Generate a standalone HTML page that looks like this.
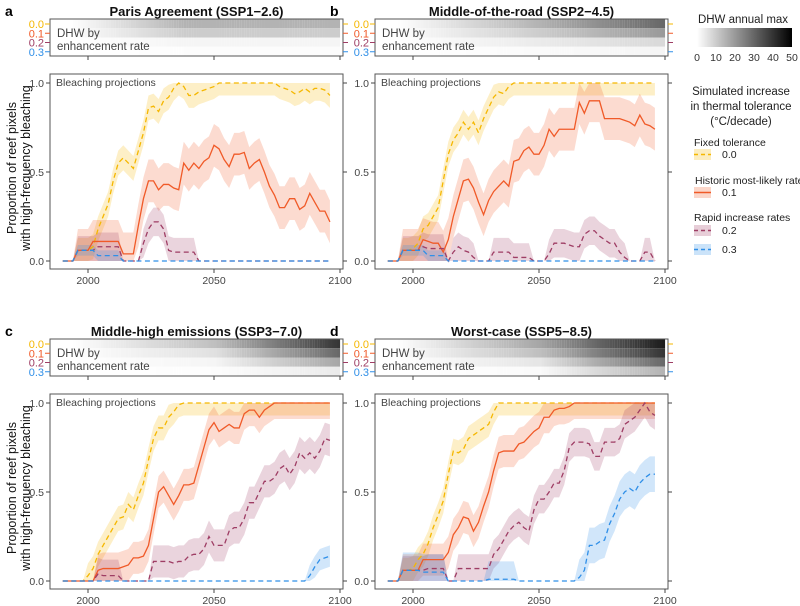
<!DOCTYPE html>
<html><head><meta charset="utf-8">
<style>
body{margin:0;background:#fff;}
svg{display:block;font-family:"Liberation Sans",sans-serif;}
</style></head>
<body>
<svg id="chart" width="800" height="606" viewBox="0 0 800 606" xmlns="http://www.w3.org/2000/svg">
<defs>
<linearGradient id="cbar" x1="0" x2="1" y1="0" y2="0"><stop offset="0" stop-color="#fff"/><stop offset="1" stop-color="#000"/></linearGradient>
</defs>
<g id="legend">
<text x="743" y="23" font-size="11.5" text-anchor="middle" fill="#222">DHW annual max</text>
<rect x="697" y="28" width="95" height="19" fill="url(#cbar)"/>
<g font-size="10.5" fill="#333" text-anchor="middle">
<text x="697" y="61">0</text><text x="716" y="61">10</text><text x="735" y="61">20</text><text x="754" y="61">30</text><text x="773" y="61">40</text><text x="792" y="61">50</text></g>
<g font-size="11.5" fill="#222" text-anchor="middle">
<text x="741" y="95">Simulated increase</text><text x="741" y="110">in thermal tolerance</text><text x="741" y="125">(°C/decade)</text></g>
<g font-size="10.5" fill="#222">
<text x="694" y="146">Fixed tolerance</text>
<rect x="694" y="149" width="17" height="11" fill="#F5B700" opacity="0.25"/><line x1="694" x2="711" y1="154.5" y2="154.5" stroke="#F5B700" stroke-width="1.4" stroke-dasharray="4,3"/><text x="722" y="158">0.0</text>
<text x="695" y="184">Historic most-likely rate</text>
<rect x="694" y="187" width="17" height="11" fill="#F05A28" opacity="0.25"/><line x1="694" x2="711" y1="192.5" y2="192.5" stroke="#F05A28" stroke-width="1.5"/><text x="722" y="196">0.1</text>
<text x="694" y="221">Rapid increase rates</text>
<rect x="694" y="225" width="17" height="11" fill="#9E3D64" opacity="0.25"/><line x1="694" x2="711" y1="230.5" y2="230.5" stroke="#9E3D64" stroke-width="1.4" stroke-dasharray="4,3"/><text x="722" y="234">0.2</text>
<rect x="694" y="244" width="17" height="11" fill="#2F8FE8" opacity="0.25"/><line x1="694" x2="711" y1="249.5" y2="249.5" stroke="#2F8FE8" stroke-width="1.4" stroke-dasharray="4,3"/><text x="722" y="253">0.3</text>
</g>
</g>
</svg>
<script>
const years = [];
for (let y = 1990; y <= 2096; y += 2) years.push(y);
const xTicks = [2000, 2050, 2100];
const yTicks = [0, 0.5, 1];
const yTickLabels = ["0.0", "0.5", "1.0"];
const rateLabels = ["0.0", "0.1", "0.2", "0.3"];
const panelLetters = ["a", "b", "c", "d"];
const panelTitles = ["Paris Agreement (SSP1\u22122.6)", "Middle-of-the-road (SSP2\u22124.5)", "Middle-high emissions (SSP3\u22127.0)", "Worst-case (SSP5\u22128.5)"];

// panel a
const a0 = [0,0,0,0.06,0.06,0.06,0.08,0.18,0.25,0.32,0.45,0.55,0.58,0.55,0.52,0.62,0.72,0.86,0.87,0.84,0.9,0.92,0.97,1,0.98,0.93,0.93,0.95,0.96,0.97,0.98,1,1,1,1,1,1,1,1,1,1,1,1,0.98,0.97,0.96,0.94,0.95,0.97,0.95,0.97,0.97,0.96,0.93];
const a1 = [0,0,0,0.06,0.06,0.06,0.11,0.11,0.11,0.11,0.11,0.11,0.04,0.04,0.04,0.2,0.35,0.45,0.45,0.4,0.43,0.43,0.41,0.4,0.55,0.51,0.55,0.52,0.56,0.58,0.65,0.63,0.57,0.53,0.6,0.6,0.61,0.52,0.55,0.57,0.5,0.42,0.37,0.3,0.3,0.35,0.35,0.29,0.31,0.38,0.33,0.28,0.28,0.22];
const a2 = [0,0,0,0.06,0.06,0.06,0.06,0.08,0.08,0.08,0.08,0.08,0,0,0,0,0.1,0.18,0.22,0.22,0.18,0.06,0.05,0.05,0.05,0.05,0.05,0,0,0,0,0,0,0,0,0,0,0,0,0,0,0,0,0,0,0,0,0,0,0,0,0,0,0];
const a3 = [0,0,0,0.06,0.06,0.06,0.06,0.03,0.03,0.03,0.03,0.03,0,0,0,0,0,0,0,0,0,0,0,0,0,0,0,0,0,0,0,0,0,0,0,0,0,0,0,0,0,0,0,0,0,0,0,0,0,0,0,0,0,0];
// panel b
const b0 = [0,0,0,0.06,0.06,0.07,0.1,0.18,0.2,0.25,0.3,0.45,0.6,0.68,0.72,0.78,0.74,0.78,0.72,0.8,0.86,0.92,0.95,0.94,0.98,1,1,1,1,1,1,1,1,1,1,1,1,1,1,1,1,1,1,1,1,1,1,1,1,1,1,1,1,1];
const b1 = [0,0,0,0.06,0.06,0.06,0.06,0.12,0.11,0.1,0.1,0.05,0.12,0.25,0.35,0.45,0.46,0.41,0.33,0.26,0.34,0.39,0.42,0.45,0.42,0.56,0.57,0.62,0.64,0.6,0.6,0.65,0.74,0.7,0.74,0.74,0.74,0.74,0.89,0.83,0.9,0.9,0.9,0.8,0.8,0.8,0.8,0.79,0.78,0.76,0.82,0.77,0.76,0.74];
const b2 = [0,0,0,0.06,0.06,0.06,0.06,0.08,0.07,0.07,0.07,0.07,0,0.05,0.08,0.06,0.05,0.02,0,0,0,0.05,0.05,0.05,0.05,0.02,0.02,0.02,0.02,0,0,0,0.04,0.1,0.1,0.1,0.09,0.08,0.08,0.15,0.17,0.17,0.14,0.12,0.1,0.1,0.05,0.02,0,0,0,0.05,0.05,0];
const b3 = [0,0,0,0.06,0.06,0.06,0.06,0.06,0.03,0.03,0.03,0.03,0,0,0,0,0,0,0,0,0,0,0,0,0,0,0,0,0,0,0,0,0,0,0,0,0,0,0,0,0,0,0,0,0,0,0,0,0,0,0,0,0,0];
// panel c
const c0 = [0,0,0,0,0,0.03,0.07,0.15,0.2,0.25,0.3,0.35,0.36,0.43,0.4,0.48,0.55,0.68,0.8,0.86,0.86,0.92,0.95,0.99,1,1,1,1,1,1,1,1,1,1,1,1,1,1,1,1,1,1,1,1,1,1,1,1,1,1,1,1,1,1];
const c1 = [0,0,0,0,0,0,0,0.06,0.07,0.07,0.07,0.07,0.08,0.09,0.13,0.13,0.14,0.2,0.35,0.5,0.53,0.48,0.43,0.48,0.54,0.54,0.55,0.65,0.75,0.85,0.89,0.84,0.86,0.88,0.86,0.86,0.94,0.96,0.96,0.92,0.96,0.98,1,1,1,1,1,1,1,1,1,1,1,1];
const c2 = [0,0,0,0,0,0,0,0.04,0.03,0.03,0.03,0.03,0,0,0,0,0,0,0.11,0.11,0.11,0.11,0.1,0.11,0.11,0.14,0.15,0.15,0.18,0.25,0.2,0.2,0.2,0.28,0.3,0.3,0.35,0.44,0.44,0.5,0.56,0.56,0.58,0.63,0.65,0.6,0.64,0.72,0.69,0.72,0.69,0.73,0.8,0.79];
const c3 = [0,0,0,0,0,0,0,0,0,0,0,0,0,0,0,0,0,0,0,0,0,0,0,0,0,0,0,0,0,0,0,0,0,0,0,0,0,0,0,0,0,0,0,0,0,0,0,0,0,0.03,0.08,0.12,0.13,0.14];
// panel d
const d0 = [0,0,0,0.06,0.06,0.07,0.12,0.15,0.21,0.3,0.37,0.45,0.6,0.73,0.72,0.74,0.8,0.82,0.84,0.86,0.88,0.95,1,1,1,1,1,1,1,1,1,1,1,1,1,1,1,1,1,1,1,1,1,1,1,1,1,1,1,1,1,1,1,1];
const d1 = [0,0,0,0.06,0.06,0.06,0.06,0.12,0.12,0.12,0.12,0.12,0.16,0.26,0.3,0.36,0.35,0.28,0.33,0.42,0.5,0.62,0.72,0.73,0.73,0.73,0.77,0.78,0.81,0.84,0.86,0.92,0.92,0.96,0.97,0.97,0.98,1,1,1,1,1,1,1,1,1,1,1,1,1,1,1,1,1];
const d2 = [0,0,0,0.06,0.06,0.06,0.06,0.06,0.07,0.07,0.07,0.07,0,0,0.07,0.07,0.07,0.07,0.07,0.07,0.07,0.15,0.18,0.23,0.28,0.31,0.33,0.3,0.28,0.4,0.46,0.46,0.5,0.55,0.55,0.62,0.75,0.78,0.78,0.78,0.77,0.7,0.7,0.78,0.78,0.78,0.8,0.88,0.9,0.92,0.96,1,0.95,0.93];
const d3 = [0,0,0,0.06,0.06,0.06,0.06,0.05,0.05,0.05,0.05,0.05,0,0,0,0,0,0,0,0,0.01,0.01,0.01,0.01,0.01,0.01,0,0,0,0,0,0,0,0,0,0,0,0,0.02,0.06,0.2,0.2,0.22,0.23,0.32,0.38,0.46,0.5,0.52,0.5,0.55,0.58,0.6,0.6];

// band half-widths per series per panel
const bandA = [0.07, 0.12, 0.08, 0.03];
const bandB = [0.07, 0.12, 0.08, 0.03];
const bandC = [0.07, 0.09, 0.09, 0.06];
const bandD = [0.07, 0.09, 0.08, 0.1];
// heatmap darkness per row at 2050 and 2100
const heat2050 = [[0.3,0.2,0.04,0.01],[0.3,0.2,0.08,0.02],[0.25,0.12,0.04,0.01],[0.35,0.25,0.1,0.02]];
const heat2100 = [[0.3,0.2,0.04,0.01],[0.6,0.4,0.15,0.04],[0.8,0.6,0.35,0.08],[0.9,0.8,0.6,0.3]];

const panelSeries = [[a0,a1,a2,a3],[b0,b1,b2,b3],[c0,c1,c2,c3],[d0,d1,d2,d3]];
const panelBands = [bandA, bandB, bandC, bandD];
const colors = ["#F5B700", "#F05A28", "#9E3D64", "#2F8FE8"];
const dashes = ["5,3.5", null, "5,3.5", "5,3.5"];

const svg = document.getElementById('chart');
const NS = "http://www.w3.org/2000/svg";
function mk(tag, attrs, parent) {
  const e = document.createElementNS(NS, tag);
  for (const k in attrs) e.setAttribute(k, attrs[k]);
  (parent || svg).appendChild(e);
  return e;
}
function txt(s, attrs, parent) { const e = mk('text', attrs, parent); e.textContent = s; return e; }

const offsets = [[0,0],[325,0],[0,320],[325,320]];
offsets.forEach((off, p) => {
  const dx = off[0], dy = off[1];
  const g = mk('g', {});
  
  
  const L = 50 + dx, R = 343 + dx;
  const xs = yr => 88 + dx + (yr - 2000) * 2.52;
  const ys = v => 261 + dy - v * 178;

  const letter = txt(panelLetters[p], {x: 5 + dx, y: 16 + dy, 'font-size': 14, 'font-weight': 'bold', fill: '#000'}, g);
  
  
  const title = txt(panelTitles[p], {x: (L + R) / 2, y: 16 + dy, 'font-size': 13, 'font-weight': 'bold', 'text-anchor': 'middle', fill: '#111'}, g);
  
  

  // heatmap
  const hg = mk('g', {}, g);
  
  
  const hTop = 19 + dy, rowH = 9.25;
  for (let r = 0; r < 4; r++) {
    for (let yr = 1993; yr < 2100; yr += 1) {
      let d;
      if (yr < 2050) d = heat2050[p][r] * Math.min(1, (yr - 1993) / (p === 0 ? 45 : 57));
      else d = heat2050[p][r] + (heat2100[p][r] - heat2050[p][r]) * (yr - 2050) / 50;
      const c = Math.round(255 * (1 - d));
      mk('rect', {x: xs(yr), y: hTop + r * rowH, width: 2.6, height: rowH, fill: `rgb(${c},${c},${c})`}, hg);
    }
  }
  mk('rect', {x: L, y: hTop, width: R - L, height: 37, fill: 'none', stroke: '#555', 'stroke-width': 1}, hg);
  txt('DHW by', {x: L + 7, y: 37 + dy, 'font-size': 11.5, fill: '#444'}, hg);
  txt('enhancement rate', {x: L + 7, y: 50 + dy, 'font-size': 11.5, fill: '#444'}, hg);
  rateLabels.forEach((lab, r) => {
    const yy = hTop + r * rowH + 5;
    const t = txt(lab, {x: L - 6, y: yy + 4, 'font-size': 11, 'text-anchor': 'end', fill: colors[r]}, hg);
    
    
    mk('line', {x1: L - 5, x2: L, y1: yy, y2: yy, stroke: colors[r], 'stroke-width': 1}, hg);
    mk('line', {x1: R, x2: R + 5, y1: yy, y2: yy, stroke: colors[r], 'stroke-width': 1}, hg);
  });
  xTicks.forEach(t => mk('line', {x1: xs(t), x2: xs(t), y1: hTop + 37, y2: hTop + 41, stroke: '#444'}, hg));

  // plot area
  const T = 74 + dy, B = 269 + dy;
  const plot = mk('g', {}, g);
  
  
  mk('rect', {x: L, y: T, width: R - L, height: B - T, fill: '#fff'}, plot);
  const sers = panelSeries[p];
  sers.forEach((vals, s) => {
    const w = panelBands[p][s];
    let up = [], lo = [];
    vals.forEach((v, i) => {
      const hi = v > 0 ? Math.min(1, v + w) : 0;
      const lw = v > 0 ? Math.max(0, v - w) : 0;
      up.push(xs(years[i]) + ',' + ys(hi));
      lo.unshift(xs(years[i]) + ',' + ys(lw));
    });
    const b = mk('polygon', {points: up.concat(lo).join(' '), fill: colors[s], opacity: 0.22}, plot);
    
    
  });
  sers.forEach((vals, s) => {
    const pts = vals.map((v, i) => xs(years[i]) + ',' + ys(v)).join(' ');
    const attrs = {points: pts, fill: 'none', stroke: colors[s], 'stroke-width': 1.3};
    if (dashes[s]) attrs['stroke-dasharray'] = dashes[s];
    const l = mk('polyline', attrs, plot);
    
    
  });
  mk('rect', {x: L, y: T, width: R - L, height: B - T, fill: 'none', stroke: '#555', 'stroke-width': 1}, plot);
  txt('Bleaching projections', {x: L + 6, y: 86 + dy, 'font-size': 10.5, fill: '#444'}, plot);
  yTicks.forEach((v, i) => {
    mk('line', {x1: L - 4, x2: L, y1: ys(v), y2: ys(v), stroke: '#444'}, plot);
    mk('line', {x1: R, x2: R + 4, y1: ys(v), y2: ys(v), stroke: '#444'}, plot);
    const t = txt(yTickLabels[i], {x: L - 6, y: ys(v) + 4, 'font-size': 10.5, 'text-anchor': 'end', fill: '#444'}, plot);
    
    
  });
  xTicks.forEach(t => {
    mk('line', {x1: xs(t), x2: xs(t), y1: B, y2: B + 4, stroke: '#444'}, plot);
    const e = txt(String(t), {x: xs(t), y: B + 15, 'font-size': 10.5, 'text-anchor': 'middle', fill: '#444'}, plot);
    
    
  });
  if (dx === 0) {
    const yt = mk('text', {transform: `translate(16,${168 + dy}) rotate(-90)`, 'font-size': 12.5, 'text-anchor': 'middle', fill: '#111'}, g);
    
    
    const t1 = mk('tspan', {x: 0, y: 0}, yt); t1.textContent = 'Proportion of reef pixels';
    const t2 = mk('tspan', {x: 0, y: 14}, yt); t2.textContent = 'with high-frequency bleaching';
  }
});
</script>
</body></html>
